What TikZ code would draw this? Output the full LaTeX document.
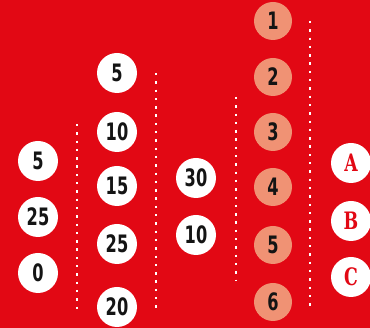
\documentclass[tikz,border=0pt]{standalone}
\usepackage{fontspec}
\setmainfont{DejaVu Sans Condensed}[FakeStretch=0.75]
\newfontfamily\slabfont{DejaVu Serif Condensed}[FakeStretch=0.8]
\usetikzlibrary{positioning}
\definecolor{cBack}{RGB}{226,8,20}
\definecolor{cSalmon}{RGB}{240,146,116}
\definecolor{cInk}{RGB}{20,20,20}
\tikzset{
  ball/.style={circle, minimum size=40pt, inner sep=0pt,
               font=\fontsize{24}{24}\selectfont\bfseries},
  bWhite/.style ={ball, fill=white,   text=cInk},
  bSalmon/.style={ball, fill=cSalmon, text=cInk, minimum size=38pt},
  bLetter/.style={ball, fill=white,   text=cBack,
                  font=\fontsize{24}{24}\selectfont\slabfont\bfseries},
  divider/.style={white, line width=2.4pt,
                  dash pattern=on 2.4pt off 5.9pt},
}

\begin{document}
\begin{tikzpicture}[x=1pt, y=-1pt]

%% ============================================================
%% BACKGROUND
%% ============================================================
\useasboundingbox (0,0) rectangle (370,328);
\fill[cBack] (0,0) rectangle (370,328);

%% ============================================================
%% COLUMN 1
%% ============================================================
\node[bWhite] (a1) at (38,161) {5};
\node[bWhite] (a2) at (38,217) {25};
\node[bWhite] (a3) at (38,273) {0};

%% ============================================================
%% COLUMN 2
%% ============================================================
\node[bWhite] (b1) at (117, 73) {5};
\node[bWhite] (b2) at (117,132) {10};
\node[bWhite] (b3) at (117,186) {15};
\node[bWhite] (b4) at (117,244) {25};
\node[bWhite] (b5) at (117,307) {20};

%% ============================================================
%% COLUMN 3
%% ============================================================
\node[bWhite] (c1) at (196,178) {30};
\node[bWhite] (c2) at (196,235) {10};

%% ============================================================
%% COLUMN 4  (salmon)
%% ============================================================
\node[bSalmon] (d1) at (273, 21) {1};
\node[bSalmon] (d2) at (273, 77) {2};
\node[bSalmon] (d3) at (273,132) {3};
\node[bSalmon] (d4) at (273,187) {4};
\node[bSalmon] (d5) at (273,245) {5};
\node[bSalmon] (d6) at (273,302) {6};

%% ============================================================
%% COLUMN 5  (letters)
%% ============================================================
\node[bLetter] (e1) at (351,163) {A};
\node[bLetter] (e2) at (351,221) {B};
\node[bLetter] (e3) at (351,277) {C};

%% ============================================================
%% DOTTED DIVIDERS
%% ============================================================
\draw[divider] (77,124) -- (77,309);
\draw[divider] (156,73) -- (156,309);
\draw[divider] (236,97) -- (236,281);
\draw[divider] (310,21) -- (310,309);

\end{tikzpicture}
\end{document}
